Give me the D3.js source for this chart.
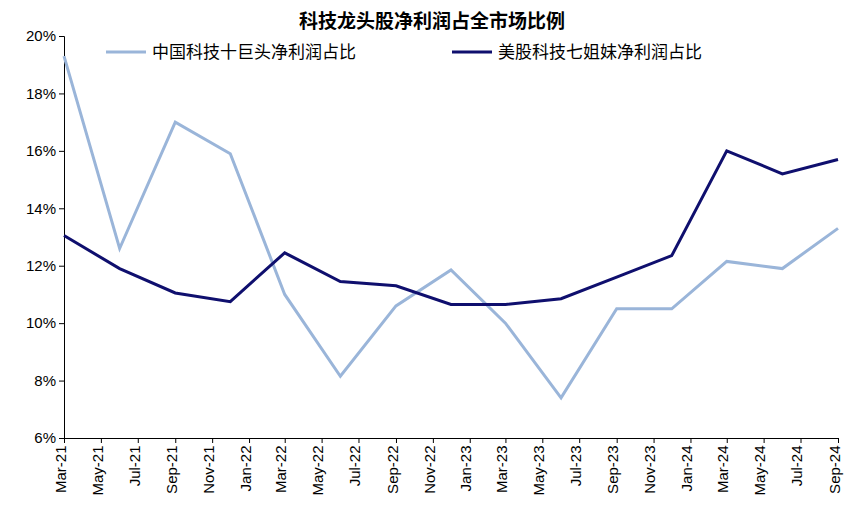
<!DOCTYPE html>
<html><head><meta charset="utf-8">
<script src="https://cdn.jsdelivr.net/npm/d3@7"></script>
<style>body{margin:0;background:#fff;font-family:"Liberation Sans",Arial,"Noto Sans CJK SC",sans-serif}</style>
</head><body>
<script>
const title = "科技龙头股净利润占全市场比例";
const seriesNames = ["中国科技十巨头净利润占比", "美股科技七姐妹净利润占比"];
// quarterly data points (month index from Mar-21)
const quarters = ["2021-03","2021-06","2021-09","2021-12","2022-03","2022-06","2022-09","2022-12","2023-03","2023-06","2023-09","2023-12","2024-03","2024-06","2024-09"];
const china = [19.3, 12.6, 17.0, 15.9, 11.0, 8.15, 10.6, 11.85, 10.0, 7.4, 10.5, 10.5, 12.15, 11.9, 13.3];
const us = [13.05, 11.9, 11.05, 10.75, 12.45, 11.45, 11.3, 10.65, 10.65, 10.85, 11.6, 12.35, 16.0, 15.2, 15.7];
const yTicks = [6, 8, 10, 12, 14, 16, 18, 20];
const colors = ["#9ab5d9", "#0f0f6e"];

const W = 864, H = 526;
const m = {l: 64, r: 26, t: 36, b: 88};
const svg = d3.select("body").append("svg").attr("width", W).attr("height", H);
const parse = d3.timeParse("%Y-%m");
const x = d3.scaleTime().domain([parse("2021-03"), parse("2024-09")]).range([m.l, W - m.r]);
const y = d3.scaleLinear().domain([6, 20]).range([H - m.b, m.t]);

svg.append("text").attr("x", W/2).attr("y", 28).attr("text-anchor", "middle")
   .attr("font-size", 19).attr("font-weight", "bold").attr("font-family", "Noto Sans CJK SC").text(title);

const yAxis = svg.append("g").attr("transform", `translate(${m.l},0)`)
   .call(d3.axisLeft(y).tickValues(yTicks).tickFormat(d => d + "%").tickSize(5));
yAxis.selectAll("text").attr("font-size", 15).attr("fill", "#000");

const xTicks = d3.timeMonth.every(2).range(parse("2021-03"), parse("2024-10"));
const xAxis = svg.append("g").attr("transform", `translate(0,${H - m.b})`)
   .call(d3.axisBottom(x).tickValues(xTicks).tickFormat(d3.timeFormat("%b-%y")).tickSize(5));
xAxis.selectAll("text").attr("font-size", 15).attr("fill", "#000")
   .attr("transform", "rotate(-90)").attr("text-anchor", "end")
   .attr("dx", "-0.5em").attr("dy", "-0.45em");
svg.selectAll(".domain, .tick line").attr("stroke", "#000");

const line = d3.line().x((d, i) => x(parse(quarters[i]))).y(d => y(d));
[china, us].forEach((s, k) => {
  svg.append("path").datum(s).attr("d", line).attr("fill", "none")
     .attr("stroke", colors[k]).attr("stroke-width", 3);
});

// legend
const lx = [106, 452];
seriesNames.forEach((n, k) => {
  svg.append("line").attr("x1", lx[k]).attr("x2", lx[k] + 40).attr("y1", 52).attr("y2", 52)
     .attr("stroke", colors[k]).attr("stroke-width", 3);
  svg.append("text").attr("x", lx[k] + 46).attr("y", 58).attr("font-size", 17)
     .attr("font-family", "Noto Sans CJK SC").text(n);
});
</script>
</body></html>
